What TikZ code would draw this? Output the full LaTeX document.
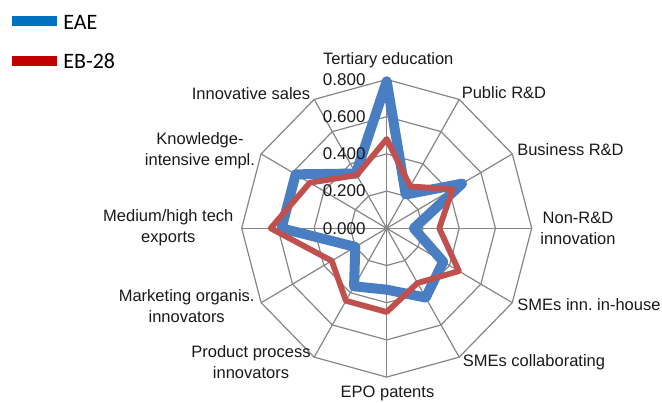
\documentclass[tikz,border=0pt]{standalone}
\usepackage{fontspec}
\setmainfont{Liberation Sans}
\newfontfamily\legendfont{Carlito}
\usepackage{xcolor}
\usepackage{tikz}
\usetikzlibrary{positioning}
\frenchspacing

\definecolor{eaeblue}{HTML}{4A7EC2}
\definecolor{ebred}{HTML}{C0504D}
\definecolor{legblue}{HTML}{0070C0}
\definecolor{legred}{HTML}{C00000}
\definecolor{gridgray}{HTML}{858585}

\tikzset{
  gridline/.style={draw=gridgray, line width=1.2pt},
  eaeline/.style={draw=eaeblue, line width=10pt, line join=round},
  ebline/.style={draw=ebred, line width=5.8pt, line join=round},
  axislabel/.style={font=\fontsize{16.5}{21}\selectfont, text=black!90, align=center, inner sep=0pt},
  ticklabel/.style={font=\fontsize{17}{20}\selectfont, text=black!90, anchor=east, inner sep=0pt},
  legendtext/.style={font=\legendfont\fontsize{22}{24}\selectfont, inner sep=0pt},
}

\begin{document}
\begin{tikzpicture}[x=1pt,y=1pt]
      \useasboundingbox (-386.7,-174.7) rectangle (275.3,228.3);

      \begin{scope}[x=181.25pt,y=186pt]
      % spokes
      \draw [gridline] (0,0) -- (90:0.8);
      \draw [gridline] (0,0) -- (60:0.8);
      \draw [gridline] (0,0) -- (30:0.8);
      \draw [gridline] (0,0) -- (0:0.8);
      \draw [gridline] (0,0) -- (-30:0.8);
      \draw [gridline] (0,0) -- (-60:0.8);
      \draw [gridline] (0,0) -- (-90:0.8);
      \draw [gridline] (0,0) -- (-120:0.8);
      \draw [gridline] (0,0) -- (-150:0.8);
      \draw [gridline] (0,0) -- (180:0.8);
      \draw [gridline] (0,0) -- (150:0.8);
      \draw [gridline] (0,0) -- (120:0.8);

      % rings
      \draw [gridline] (90:0.2) -- (60:0.2) -- (30:0.2) -- (0:0.2) -- (-30:0.2) -- (-60:0.2) -- (-90:0.2) -- (-120:0.2) -- (-150:0.2) -- (180:0.2) -- (150:0.2) -- (120:0.2) -- cycle;
      \draw [gridline] (90:0.4) -- (60:0.4) -- (30:0.4) -- (0:0.4) -- (-30:0.4) -- (-60:0.4) -- (-90:0.4) -- (-120:0.4) -- (-150:0.4) -- (180:0.4) -- (150:0.4) -- (120:0.4) -- cycle;
      \draw [gridline] (90:0.6) -- (60:0.6) -- (30:0.6) -- (0:0.6) -- (-30:0.6) -- (-60:0.6) -- (-90:0.6) -- (-120:0.6) -- (-150:0.6) -- (180:0.6) -- (150:0.6) -- (120:0.6) -- cycle;
      \draw [gridline] (90:0.8) -- (60:0.8) -- (30:0.8) -- (0:0.8) -- (-30:0.8) -- (-60:0.8) -- (-90:0.8) -- (-120:0.8) -- (-150:0.8) -- (180:0.8) -- (150:0.8) -- (120:0.8) -- cycle;

      % series
      \draw [eaeline] (90:0.79) -- (60:0.21) -- (30:0.48) -- (0:0.15) -- (-30:0.36) -- (-60:0.43) -- (-90:0.33) -- (-120:0.36) -- (-150:0.20) -- (180:0.58) -- (150:0.58) -- (120:0.34) -- cycle;
      \draw [ebline] (90:0.48) -- (60:0.26) -- (30:0.42) -- (0:0.29) -- (-30:0.46) -- (-60:0.34) -- (-90:0.45) -- (-120:0.45) -- (-150:0.35) -- (180:0.64) -- (150:0.49) -- (120:0.33) -- cycle;
      \end{scope}

      % axis labels
      \node [axislabel] (tertiary) at (1.6,168.3) {Tertiary education};
      \node [axislabel] (publicrd) at (117.3,135.3) {Public R\&D};
      \node [axislabel] (businessrd) at (183.8,78.3) {Business R\&D};
      \node [axislabel] (nonrd) at (191.3,0.3) {Non-R\&D\\innovation};
      \node [axislabel] (smeinhouse) at (202.3,-76.7) {SMEs inn. in-house};
      \node [axislabel] (smecollab) at (147.3,-133.7) {SMEs collaborating};
      \node [axislabel] (epo) at (0.8,-165) {EPO patents};
      \node [axislabel] (prodproc) at (-135.7,-133.7) {Product process\\innovators};
      \node [axislabel] (marketing) at (-200,-77.7) {Marketing organis.\\innovators};
      \node [axislabel] (medhigh) at (-218.4,0.3) {Medium/high tech\\exports};
      \node [axislabel] (knowledge) at (-186.7,77.3) {Knowledge-\\intensive empl.};
      \node [axislabel] (innosales) at (-135.7,135) {Innovative sales};

      % scale
      \node [ticklabel] (tick0) at (-21,0) {0.000};
      \node [ticklabel] (tick2) at (-21,37.2) {0.200};
      \node [ticklabel] (tick4) at (-21,74.4) {0.400};
      \node [ticklabel] (tick6) at (-21,111.6) {0.600};
      \node [ticklabel] (tick8) at (-21,148.8) {0.800};

      % legend
      \coordinate (eaestart) at (-375,207.6);
      \coordinate (eaeend) at (-330,207.6);
      \coordinate (ebstart) at (-375,167.6);
      \coordinate (ebend) at (-330,167.6);
      \draw [draw=legblue, line width=10pt] (eaestart) -- (eaeend);
      \draw [draw=legred, line width=10pt] (ebstart) -- (ebend);
      \node [legendtext, right=6.5pt of eaeend, yshift=-2pt] (eaetext) {EAE};
      \node [legendtext, right=6.5pt of ebend, yshift=-0.5pt] (ebtext) {EB-28};
    \end{tikzpicture}
\end{document}
